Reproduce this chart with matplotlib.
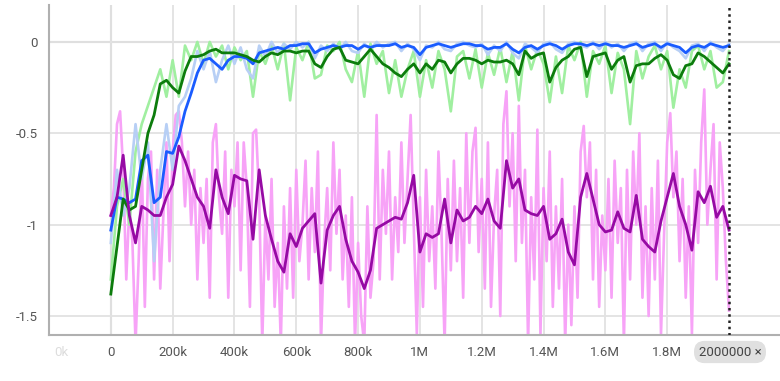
import matplotlib
matplotlib.use('Agg')
import matplotlib.pyplot as plt
import numpy as np
from matplotlib.ticker import FuncFormatter

plt.rcParams['font.family'] = ['Roboto', 'DejaVu Sans']
plt.rcParams['axes.unicode_minus'] = False

# steps for smoothed curves and raw curves
steps = np.arange(0, 2000001, 20000)
raw_steps_pink = np.arange(0, 2000001, 10000)

blue_smooth = [-1.03, -0.85, -0.86, -0.88, -0.86, -0.65, -0.62, -0.88, -0.85, -0.60,
               -0.61, -0.52, -0.38, -0.28, -0.17, -0.10, -0.09, -0.12, -0.15, -0.10,
               -0.08, -0.08, -0.09, -0.12, -0.06, -0.05, -0.04, -0.03, -0.04, -0.02,
               -0.02, -0.01, -0.01, -0.06, -0.04, -0.03, -0.02, -0.03, -0.02, -0.02,
               -0.04, -0.02, -0.03, -0.02, -0.02, -0.02, -0.01, -0.03, -0.02, -0.03,
               -0.07, -0.03, -0.02, -0.01, -0.02, -0.03, -0.02, -0.01, -0.01, -0.02,
               -0.02, -0.04, -0.03, -0.03, -0.01, -0.04, -0.06, -0.03, -0.02, -0.04,
               -0.02, -0.01, -0.02, -0.04, -0.02, -0.01, -0.01, -0.02, -0.01, -0.02,
               -0.01, -0.02, -0.02, -0.03, -0.02, -0.01, -0.03, -0.02, -0.01, -0.03,
               -0.01, -0.02, -0.03, -0.06, -0.03, -0.02, -0.03, -0.01, -0.02, -0.03,
               -0.02]
blue_raw = [-1.10, -0.70, -0.95, -0.80, -0.45, -0.75, -0.55, -1.20, -0.70, -0.45,
            -0.70, -0.35, -0.30, -0.20, -0.05, -0.15, -0.05, -0.22, -0.10, -0.02,
            -0.12, -0.03, -0.15, -0.20, -0.02, -0.08, 0.00, -0.06, -0.01, -0.04,
            0.00, -0.03, 0.00, -0.09, -0.02, -0.05, -0.01, -0.04, 0.00, -0.05,
            -0.06, -0.01, -0.04, 0.00, -0.03, -0.01, 0.00, -0.05, -0.01, -0.04,
            -0.10, -0.02, -0.03, 0.00, -0.04, -0.05, -0.01, 0.00, -0.02, -0.03,
            -0.01, -0.07, -0.02, -0.05, 0.00, -0.06, -0.09, -0.01, -0.03, -0.06,
            -0.01, 0.00, -0.04, -0.06, -0.01, 0.00, -0.02, -0.03, 0.00, -0.04,
            0.00, -0.03, -0.01, -0.05, -0.01, 0.00, -0.05, -0.01, 0.00, -0.05,
            0.00, -0.03, -0.05, -0.09, -0.02, -0.01, -0.05, 0.00, -0.03, -0.05,
            -0.01]

green_smooth = [-1.38, -1.12, -0.86, -0.92, -0.90, -0.70, -0.50, -0.40, -0.23, -0.21,
                -0.25, -0.28, -0.16, -0.08, -0.08, -0.07, -0.05, -0.04, -0.06, -0.06,
                -0.06, -0.07, -0.08, -0.10, -0.11, -0.08, -0.06, -0.07, -0.05, -0.05,
                -0.06, -0.05, -0.05, -0.12, -0.14, -0.08, -0.04, -0.03, -0.10, -0.11,
                -0.12, -0.08, -0.04, -0.08, -0.12, -0.14, -0.17, -0.19, -0.15, -0.12,
                -0.17, -0.12, -0.15, -0.10, -0.11, -0.17, -0.12, -0.09, -0.09, -0.10,
                -0.12, -0.10, -0.11, -0.11, -0.10, -0.12, -0.18, -0.05, -0.09, -0.07,
                -0.06, -0.22, -0.14, -0.10, -0.08, -0.04, -0.03, -0.19, -0.08, -0.07,
                -0.06, -0.15, -0.10, -0.08, -0.22, -0.13, -0.12, -0.12, -0.09, -0.07,
                -0.10, -0.18, -0.20, -0.13, -0.12, -0.06, -0.08, -0.11, -0.14, -0.17,
                -0.12]
green_raw = [-1.30, -0.90, -0.75, -1.00, -0.60, -0.45, -0.35, -0.25, -0.15, -0.30,
             -0.10, -0.30, -0.02, -0.10, 0.00, -0.12, 0.00, -0.08, -0.02, -0.15,
             -0.03, -0.10, -0.05, -0.30, -0.05, -0.12, -0.02, -0.15, -0.01, -0.32,
             -0.03, -0.10, 0.00, -0.20, -0.18, -0.02, -0.05, 0.00, -0.15, -0.22,
             -0.05, -0.30, -0.01, -0.12, -0.05, -0.28, -0.10, -0.30, -0.15, -0.05,
             -0.30, -0.10, -0.25, -0.05, -0.15, -0.38, -0.08, -0.05, -0.20, -0.04,
             -0.25, -0.06, -0.18, -0.03, -0.22, -0.05, -0.32, -0.02, -0.15, -0.04,
             -0.12, -0.33, -0.08, -0.28, -0.02, -0.10, 0.00, -0.30, -0.05, -0.12,
             -0.02, -0.28, -0.06, -0.15, -0.45, -0.05, -0.20, -0.08, -0.02, -0.15,
             -0.05, -0.36, -0.15, -0.25, -0.05, -0.02, -0.15, -0.05, -0.25, -0.22,
             -0.05]

purple_smooth = [-0.95, -0.85, -0.62, -0.95, -1.10, -0.90, -0.92, -0.95, -0.95, -0.85,
                 -0.78, -0.57, -0.65, -0.75, -0.85, -0.90, -1.02, -0.70, -0.85, -0.94,
                 -0.73, -0.75, -0.76, -1.08, -0.70, -0.95, -1.08, -1.20, -1.26, -1.05,
                 -1.12, -1.02, -0.98, -0.94, -1.32, -1.03, -0.95, -0.90, -1.08, -1.20,
                 -1.26, -1.35, -1.25, -1.02, -1.00, -0.98, -0.96, -0.97, -0.88, -0.73,
                 -1.15, -1.05, -1.07, -1.05, -0.86, -1.10, -0.92, -0.98, -0.96, -0.90,
                 -0.94, -0.86, -0.98, -1.02, -0.65, -0.80, -0.75, -0.92, -0.94, -0.95,
                 -0.90, -1.08, -1.05, -0.97, -1.15, -1.22, -0.85, -0.72, -0.86, -1.00,
                 -1.04, -1.03, -0.93, -1.02, -1.04, -0.84, -1.08, -1.12, -1.15, -0.98,
                 -0.85, -0.72, -0.90, -1.00, -1.14, -0.82, -0.88, -0.79, -0.96, -0.90,
                 -1.03]
pink_raw = [-0.95, -0.80, -0.45, -0.38, -0.70, -1.30, -0.90, -1.10, -1.65, -1.20,
            -0.65, -1.45, -0.75, -0.60, -1.30, -0.70, -1.35, -0.95, -0.55, -1.20,
            -0.60, -0.40, -0.38, -0.55, -0.90, -0.60, -1.00, -0.70, -1.30, -0.80,
            -1.10, -0.75, -1.40, -0.55, -0.45, -0.85, -1.05, -0.60, -1.40, -0.70,
            -0.90, -0.55, -1.25, -0.55, -0.80, -1.45, -0.50, -0.48, -0.85, -1.65,
            -0.95, -1.30, -0.75, -1.45, -1.10, -1.65, -0.90, -1.35, -0.80, -1.40,
            -0.70, -1.20, -1.00, -0.65, -1.30, -0.80, -1.15, -0.60, -1.65, -1.10,
            -0.80, -1.25, -0.55, -1.05, -0.70, -1.30, -0.95, -1.45, -0.85, -1.65,
            -1.10, -1.50, -1.65, -0.90, -1.40, -1.20, -0.40, -1.30, -0.70, -1.05,
            -0.60, -1.30, -0.85, -1.15, -0.55, -1.10, -0.75, -0.40, -1.00, -1.60,
            -0.85, -1.45, -0.70, -1.20, -0.90, -1.35, -0.60, -1.05, -1.65, -0.75,
            -1.25, -0.65, -1.20, -0.80, -1.40, -0.50, -1.10, -0.60, -0.47, -1.15,
            -0.75, -1.35, -0.55, -1.45, -0.95, -0.70, -1.50, -0.45, -0.27, -0.90,
            -0.50, -1.20, -0.35, -1.10, -0.70, -1.65, -0.85, -1.30, -0.48, -1.60,
            -0.80, -1.20, -0.60, -1.45, -0.90, -1.35, -0.75, -1.65, -1.00, -1.55,
            -0.90, -1.40, -0.60, -0.46, -0.85, -0.55, -1.30, -0.70, -1.45, -0.95,
            -1.25, -0.75, -1.40, -0.65, -1.10, -0.80, -1.65, -0.70, -1.30, -0.60,
            -1.00, -0.50, -1.40, -0.90, -1.50, -0.80, -1.30, -0.65, -1.60, -1.05,
            -0.55, -0.39, -0.85, -0.60, -1.20, -0.75, -1.40, -0.90, -1.60, -0.70,
            -1.10, -0.55, -0.26, -1.00, -0.70, -0.45, -1.30, -0.55, -0.80, -1.20,
            -1.47]

xticks = np.arange(0, 1800001, 200000)
yticks = [0, -0.5, -1, -1.5]


def fmt_step(v, pos=None):
    if v == 0:
        return '0'
    if abs(v) < 1e6:
        return f'{v / 1000:g}k'
    return f'{v / 1e6:g}M'


fig = plt.figure(figsize=(7.8, 3.81), dpi=100)
ax = fig.add_axes([49 / 780, 1 - 335 / 381, 1 - 49 / 780, (335 - 5) / 381])

# raw curves
ax.plot(raw_steps_pink, pink_raw, color='#f7a3f7', lw=1.9, zorder=2)
ax.plot(steps, green_raw, color='#a0efa0', lw=1.9, zorder=2)
ax.plot(steps, blue_raw, color='#b7cff5', lw=1.9, zorder=2)
# smoothed curves
ax.plot(steps, blue_smooth, color='#1a5cff', lw=2.0, zorder=3)
ax.plot(steps, green_smooth, color='#0c7c0c', lw=2.0, zorder=3)
ax.plot(steps, purple_smooth, color='#960aa4', lw=2.0, zorder=3)

ax.set_xlim(-200000, 2165000)
ax.set_ylim(-1.604, 0.202)
ax.set_xticks(xticks)
ax.set_yticks(yticks)
ax.xaxis.set_major_formatter(FuncFormatter(fmt_step))
ax.yaxis.set_major_formatter(FuncFormatter(lambda v, p: f'{v:g}'))
ax.tick_params(length=0, labelsize=9.5, colors='#555555', pad=8)

ax.grid(True, color='#e2e2e2', lw=1.3, zorder=0)
ax.axhline(0, color='#c4c4c4', lw=1.5, zorder=1)
ax.axvline(0, color='#c4c4c4', lw=1.5, zorder=1)
for s in ['top', 'right']:
    ax.spines[s].set_visible(False)
for s in ['left', 'bottom']:
    ax.spines[s].set_color('#b0b0b0')
    ax.spines[s].set_linewidth(1.5)

# hover marker at 2M
ax.axvline(2000000, color='#222222', lw=1.8, ls=(0, (1, 1.5)), zorder=4)
fig.text(0.5 * (687 + 773) / 780, 1 - 352 / 381, '2000000 \u00d7', ha='center', va='center',
         fontsize=9.5, color='#444444',
         bbox=dict(boxstyle='round,pad=0.35,rounding_size=0.8', fc='#e0e0e0', ec='none'))
fig.text(61 / 780, 1 - 352 / 381, '0k', ha='center', va='center', fontsize=9.5, color='#dddddd')

fig.savefig('out.png', dpi=100)
